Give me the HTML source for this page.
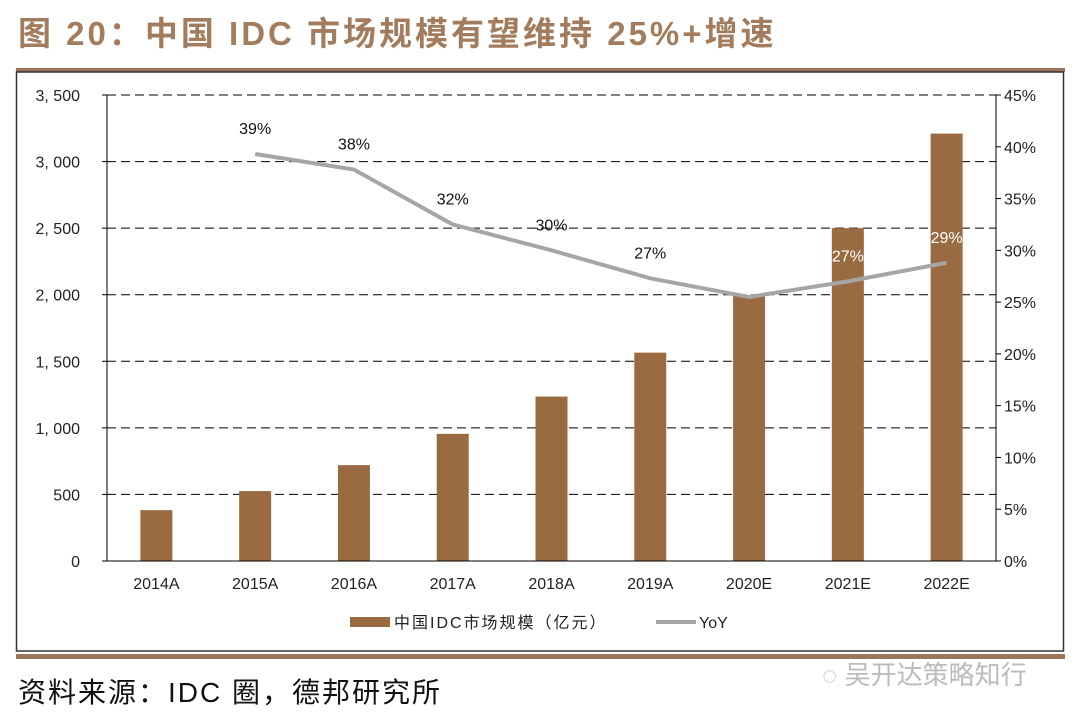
<!DOCTYPE html>
<html><head><meta charset="utf-8"><style>
body{margin:0;width:1080px;height:721px;background:#fff;overflow:hidden;font-family:"Liberation Sans","Noto Sans CJK SC",sans-serif;}
</style></head><body>
<svg width="1080" height="721" xmlns="http://www.w3.org/2000/svg">
<text x="18" y="45" font-size="33" font-weight="bold" letter-spacing="3" fill="#a27c5c" font-family="Liberation Sans, Noto Sans CJK SC, sans-serif">图 20：中国 IDC 市场规模有望维持 25%+增速</text>
<rect x="16" y="68" width="1049" height="4" fill="#9c7456"/>
<rect x="16.5" y="72" width="1047" height="579" fill="none" stroke="#333" stroke-width="1.5"/>
<rect x="16" y="654" width="1049" height="5" fill="#9c7456"/>
<g id="grid"></g><g id="bars"></g><g id="axes"></g><g id="line"></g><g id="labels"></g>
<g>
<rect x="350" y="617" width="40" height="10" fill="#9a6a40"/>
<text x="394" y="628" font-size="16" letter-spacing="2" fill="#222">中国IDC市场规模（亿元）</text>
<line x1="656" y1="622" x2="696" y2="622" stroke="#a6a6a6" stroke-width="4"/>
<text x="699" y="628" font-size="16" fill="#222">YoY</text>
</g>
<text x="18" y="702" font-size="28" letter-spacing="2" fill="#111">资料来源：IDC 圈，德邦研究所</text>
<text x="822" y="684" font-size="26" fill="#bbb">◌ 吴开达策略知行</text>
</svg>
<script>
const categories=["2014A","2015A","2016A","2017A","2018A","2019A","2020E","2021E","2022E"];
const marketSize=[382,525,720,955,1235,1565,1995,2500,3210];
const yoy=[null,39.3,37.8,32.5,30,27.3,25.5,27,28.8];
const yoyLabels=[null,"39%","38%","32%","30%","27%","25%","27%","29%"];
const leftTicks=[0,500,1000,1500,2000,2500,3000,3500];
const rightTicks=[0,5,10,15,20,25,30,35,40,45];
const L=107,R=996,T=95,B=561,NS="http://www.w3.org/2000/svg";
const yL=v=>B-(v/3500)*(B-T), yR=v=>B-(v/45)*(B-T);
const bw=(R-L)/categories.length, xC=i=>L+bw*(i+0.5);
function mk(p,tag,a,txt){const e=document.createElementNS(NS,tag);for(const k in a)e.setAttribute(k,a[k]);if(txt!=null)e.textContent=txt;document.getElementById(p).appendChild(e);return e;}
leftTicks.forEach(v=>{if(v>0){const g=mk("grid","line",{x1:L,x2:R,y1:yL(v),y2:yL(v),stroke:"#000","stroke-dasharray":"9,5","stroke-width":1});

}
const t=mk("axes","text",{x:L-27,y:yL(v)+6,"text-anchor":"end","font-size":16,fill:"#222"},v.toLocaleString("en-US").replace(",",", "));


mk("axes","line",{x1:L-5,x2:L,y1:yL(v),y2:yL(v),stroke:"#000"});});
rightTicks.forEach(v=>{const t=mk("axes","text",{x:R+8,y:yR(v)+6,"font-size":16,fill:"#222"},v+"%");


mk("axes","line",{x1:R,x2:R+5,y1:yR(v),y2:yR(v),stroke:"#000"});});
mk("axes","line",{x1:L,x2:L,y1:T,y2:B,stroke:"#000"});
mk("axes","line",{x1:R,x2:R,y1:T,y2:B,stroke:"#000"});
mk("axes","line",{x1:L,x2:R,y1:B,y2:B,stroke:"#000"});
categories.forEach((c,i)=>{const b=mk("bars","rect",{x:xC(i)-16,y:yL(marketSize[i]),width:32,height:B-yL(marketSize[i]),fill:"#9a6a40"});


const t=mk("axes","text",{x:xC(i),y:B+28,"text-anchor":"middle","font-size":16,fill:"#222"},c);

});
const pts=[];yoy.forEach((v,i)=>{if(v!=null)pts.push(xC(i)+","+yR(v));});
const pl=mk("line","polyline",{points:pts.join(" "),fill:"none",stroke:"#a6a6a6","stroke-width":4});


yoy.forEach((v,i)=>{if(v==null)return;const inBar=yR(v)>yL(marketSize[i]);
const t=mk("labels","text",{x:xC(i),y:yR(v)-20,"text-anchor":"middle","font-size":16,fill:inBar?"#fff":"#111"},yoyLabels[i]);

});
</script>
</body></html>
